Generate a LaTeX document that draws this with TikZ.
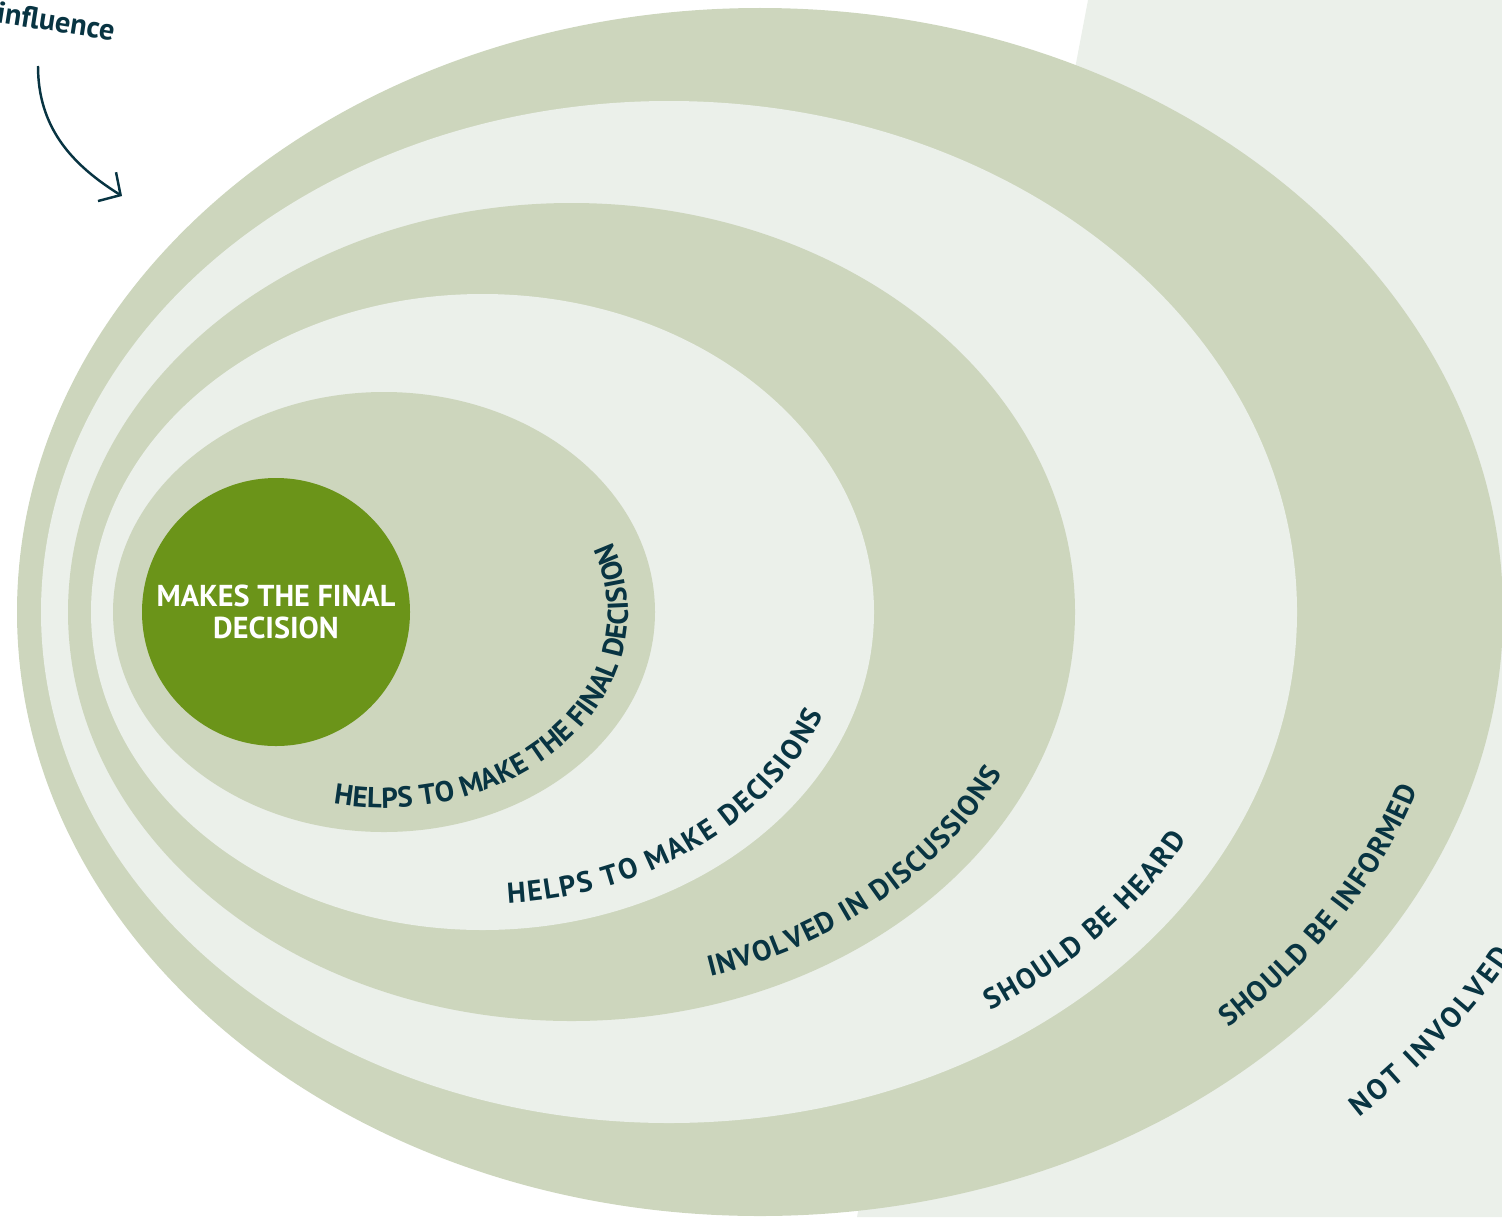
\documentclass[tikz,border=0pt]{standalone}
\usepackage{fontspec}
\setmainfont{PT Sans}
\usetikzlibrary{decorations.text,arrows.meta}

\definecolor{sage}{RGB}{205,214,189}
\definecolor{mist}{RGB}{235,240,234}
\definecolor{leaf}{RGB}{107,148,25}
\definecolor{ink}{RGB}{8,52,66}
\newcommand{\ringfont}{\fontsize{8.2}{10}\selectfont\bfseries\color{ink}}

\begin{document}
\begin{tikzpicture}[
		ring/.style={decorate, decoration={text along path, text align=fit to path, text={|\ringfont|#1}}},
		>={Straight Barb[length=1.6mm,width=3.4mm]}
	]
			\clip (0,0) rectangle (15.02,12.17);
			% background band and the rings, outside in
			\fill[mist] (10.88,12.17) -- (15.02,12.17) -- (15.02,0) -- (8.57,0) -- cycle;
			\fill[sage] (7.60,6.05) ellipse [x radius=7.43, y radius=6.04];
			\fill[mist] (6.69,6.05) ellipse [x radius=6.28, y radius=5.11];
			\fill[sage] (5.715,6.05) ellipse [x radius=5.035, y radius=4.09];
			\fill[mist] (4.825,6.05) ellipse [x radius=3.915, y radius=3.18];
			\fill[sage] (3.84,6.05) ellipse [x radius=2.71, y radius=2.20];
			\node[circle, fill=leaf, minimum size=2.68cm, inner sep=0pt, text=white, align=center, font=\fontsize{8.6}{9.1}\selectfont\bfseries] (final) at (2.76,6.05) {MAKES THE FINAL\\DECISION};
			% labels along the rings
			\path[ring=HELPS TO MAKE THE FINAL DECISION, shift={(3.84,6.05)}] (-102:2.44cm and 1.96cm) arc[start angle=-102, end angle=21, x radius=2.44, y radius=1.96];
			\path[ring=HELPS TO MAKE DECISIONS, shift={(4.825,6.05)}] (-86:3.64cm and 2.92cm) arc[start angle=-86, end angle=-20.5, x radius=3.64, y radius=2.92];
			\path[ring=INVOLVED IN DISCUSSIONS, shift={(5.715,6.05)}] (-73:4.75cm and 3.81cm) arc[start angle=-73, end angle=-25, x radius=4.75, y radius=3.81];
			\path[ring=SHOULD BE HEARD, shift={(6.69,6.05)}] (-57:5.90cm and 4.75cm) arc[start angle=-57, end angle=-28.6, x radius=5.90, y radius=4.75];
			\path[ring=SHOULD BE INFORMED, shift={(7.60,6.05)}] (-47.5:6.93cm and 5.64cm) arc[start angle=-47.5, end angle=-18.3, x radius=6.93, y radius=5.64];
			\path[ring=NOT INVOLVED, shift={(7.60,6.05)}] (-46:8.63cm and 7.02cm) arc[start angle=-46, end angle=-29.3, x radius=8.63, y radius=7.02];
			% influence arrow
			\node[rotate=-9, text=ink, font=\fontsize{8.6}{10}\selectfont\bfseries] (infl) at (0.56,11.96) {influence};
			\coordinate (arrtail) at (0.38,11.51);
			\coordinate (arrhead) at (1.22,10.21);
			\draw[->, ink, line width=0.7pt] (arrtail) to[out=-90, in=148] (arrhead);
\end{tikzpicture}
\end{document}
